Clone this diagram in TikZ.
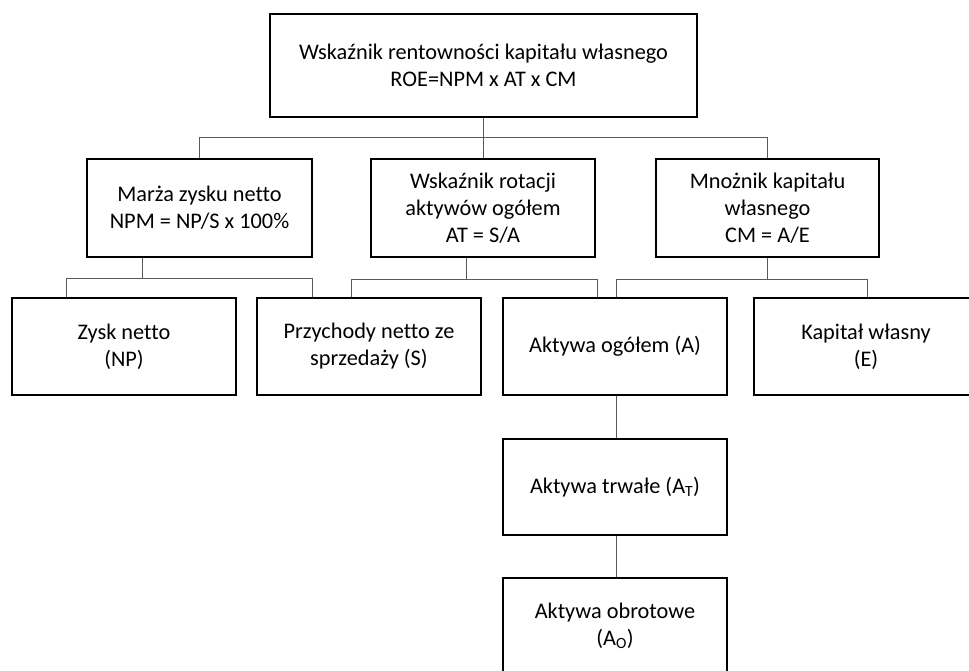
\documentclass[tikz,border=0pt]{standalone}
\usepackage{fontspec}
\setmainfont{Carlito}[Ligatures={NoCommon}]
\begin{document}
\begin{tikzpicture}[x=1pt,y=-1pt,
  box/.style={draw=black, line width=1.5pt, rectangle, align=center, inner sep=2pt,
    font=\fontsize{22.3}{27}\selectfont},
  link/.style={draw=black!65, line width=0.9pt}]
\useasboundingbox (0,0) rectangle (969,671);
\fill[white] (0,0) rectangle (969,671);
\clip (0,0) rectangle (969,671);

% top level
\node[box, minimum width=427pt, minimum height=103pt] (roe) at (483.5,65.5)
  {Wskaźnik rentowności kapitału własnego\\ROE=NPM x AT x CM};

% second level: the three factors
\node[box, minimum width=225pt, minimum height=98pt] (npm) at (199.5,208)
  {Marża zysku netto\\NPM = NP/S x 100\%};
\node[box, minimum width=224pt, minimum height=98pt] (at) at (483,208)
  {Wskaźnik rotacji\\aktywów ogółem\\AT = S/A};
\node[box, minimum width=223pt, minimum height=98pt] (cm) at (767.5,208)
  {Mnożnik kapitału\\własnego\\CM = A/E};

% third level
\node[box, minimum width=224pt, minimum height=97pt] (np) at (124,346.5)
  {Zysk netto\\(NP)};
\node[box, minimum width=224pt, minimum height=97pt] (s) at (369,346.5)
  {Przychody netto ze\\sprzedaży (S)};
\node[box, minimum width=224pt, minimum height=97pt] (a) at (615,346.5)
  {Aktywa ogółem (A)};
\node[box, minimum width=224pt, minimum height=97pt] (e) at (866,346.5)
  {Kapitał własny\\(E)};

% breakdown of total assets
\node[box, minimum width=224pt, minimum height=96pt] (at2) at (615,487)
  {Aktywa trwałe (A\textsubscript{T})};
\node[box, minimum width=224pt, minimum height=96pt] (ao) at (615,626)
  {Aktywa obrotowe\\(A\textsubscript{O})};

% connectors
\coordinate (b0) at (483,137);
\draw[link] (roe.south -| b0) -- (b0);
\draw[link] (npm.north) -- (npm.north |- b0) -- (cm.north |- b0) -- (cm.north);
\draw[link] (b0) -- (at.north);

\coordinate (b1) at (142,278);
\draw[link] (npm.south -| b1) -- (b1);
\draw[link] (np.north -| 66,0) -- (66,278) -- (312,278) -- (s.north -| 312,0);

\coordinate (b2) at (466,279);
\draw[link] (at.south -| b2) -- (b2);
\draw[link] (s.north -| 351,0) -- (351,279) -- (597,279) -- (a.north -| 597,0);

\coordinate (b3) at (767,279);
\draw[link] (cm.south -| b3) -- (b3);
\draw[link] (a.north -| 616,0) -- (616,279) -- (867,279) -- (e.north -| 867,0);

\draw[link] (a.south -| 616,0) -- (at2.north -| 616,0);
\draw[link] (at2.south -| 616,0) -- (ao.north -| 616,0);
\end{tikzpicture}
\end{document}
